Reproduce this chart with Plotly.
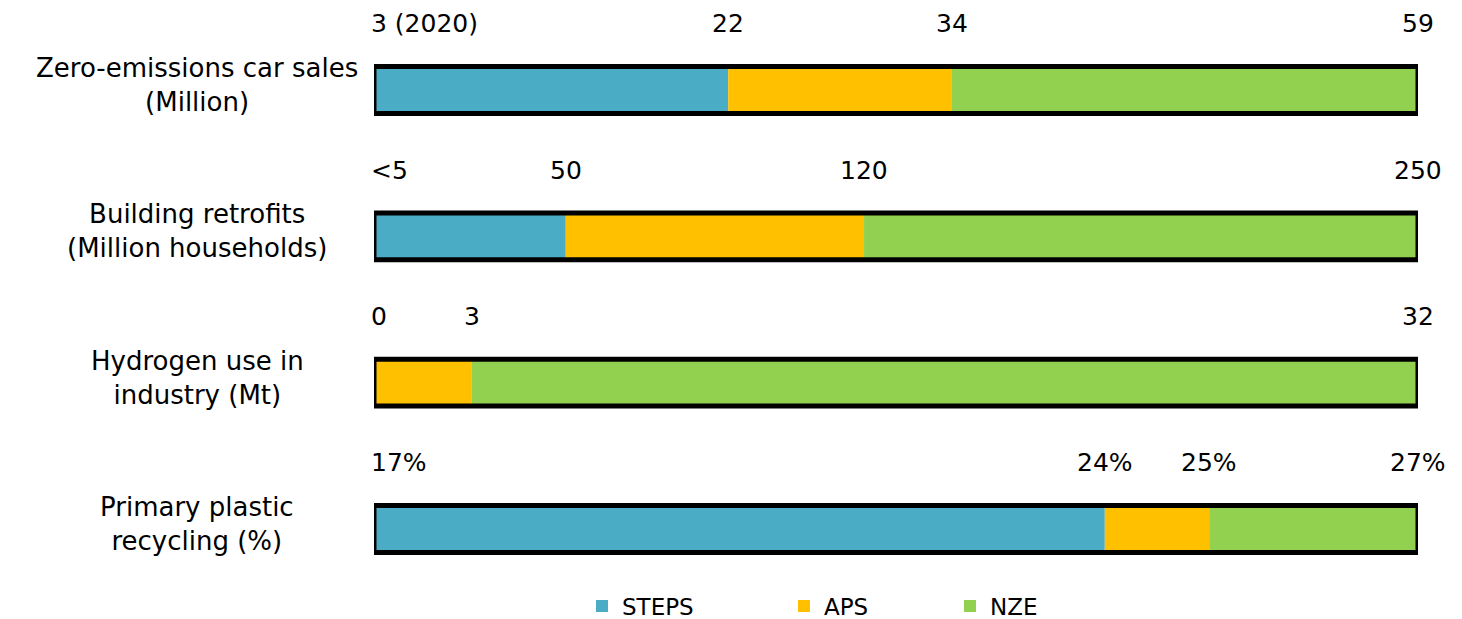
import plotly.graph_objects as go

# Indicators shown on each row
categories = [
    "Zero-emissions car sales<br>(Million)",
    "Building retrofits<br>(Million households)",
    "Hydrogen use in<br>industry (Mt)",
    "Primary plastic<br>recycling (%)",
]
# 2020 starting point and the 2030 level reached in each scenario
start_values = [3, 5, 0, 17]
steps_values = [22, 50, 0, 24]
aps_values = [34, 120, 3, 25]
nze_values = [59, 250, 32, 27]

start_labels = ["3 (2020)", "<5", "0", "17%"]
steps_labels = ["22", "50", "", "24%"]
aps_labels = ["34", "120", "3", "25%"]
nze_labels = ["59", "250", "32", "27%"]

scenarios = ["STEPS", "APS", "NZE"]
colors = {"STEPS": "#4BACC6", "APS": "#FFC000", "NZE": "#92D050"}

FONT = "DejaVu Sans"
rows = list(range(len(categories)))


def frac(v, i):
    """Position of a value along row i, scaled from its start to its NZE level."""
    lo, hi = start_values[i], nze_values[i]
    return (v - lo) / (hi - lo)


levels = {"STEPS": steps_values, "APS": aps_values, "NZE": nze_values}

fig = go.Figure()
prev = [0.0] * len(rows)
legend_ids = {"STEPS": "legend", "APS": "legend2", "NZE": "legend3"}
for name in scenarios:
    ends = [frac(levels[name][i], i) for i in rows]
    fig.add_trace(go.Bar(
        y=rows, x=[e - p for e, p in zip(ends, prev)], base=prev,
        orientation="h", name=name, width=0.32,
        marker=dict(color=colors[name], line=dict(width=0)),
        legend=legend_ids[name], hoverinfo="skip",
    ))
    prev = ends

# black frame around each full bar
fig.add_trace(go.Bar(
    y=rows, x=[1.0] * len(rows), base=[0.0] * len(rows), orientation="h",
    width=0.32, showlegend=False, hoverinfo="skip",
    marker=dict(color="rgba(0,0,0,0)", line=dict(color="black", width=5)),
))

annotations = []
for i in rows:
    annotations.append(dict(
        x=0, y=i, xref="x", yref="y", text=start_labels[i], showarrow=False,
        xanchor="left", yanchor="middle", xshift=-5, yshift=66,
        font=dict(family=FONT, size=25, color="black"),
    ))
    for lab, vals in ((steps_labels, steps_values), (aps_labels, aps_values),
                      (nze_labels, nze_values)):
        if lab[i]:
            annotations.append(dict(
                x=frac(vals[i], i), y=i, xref="x", yref="y", text=lab[i],
                showarrow=False, xanchor="center", yanchor="middle", yshift=66,
                font=dict(family=FONT, size=25, color="black"),
            ))
    annotations.append(dict(
        x=-0.1695, y=i, xref="paper", yref="y", text=categories[i],
        showarrow=False, xanchor="center", yanchor="middle", align="center",
        yshift=5, font=dict(family=FONT, size=26, color="black"),
    ))

legend_base = dict(orientation="h", xref="container", yref="container",
                   xanchor="left", yanchor="middle", y=0.021,
                   bgcolor="rgba(0,0,0,0)",
                   font=dict(family=FONT, size=23, color="black"))

fig.update_layout(
    width=1462, height=619,
    margin=dict(l=374, r=44, t=0, b=59),
    barmode="overlay",
    plot_bgcolor="white", paper_bgcolor="white",
    xaxis=dict(range=[0, 1], visible=False, fixedrange=True),
    yaxis=dict(range=[3.212, -0.615], visible=False, fixedrange=True),
    annotations=annotations,
    legend=dict(legend_base, x=582 / 1462),
    legend2=dict(legend_base, x=784 / 1462),
    legend3=dict(legend_base, x=950 / 1462),
    font=dict(family=FONT, color="black"),
)

fig.write_html("out.html")
